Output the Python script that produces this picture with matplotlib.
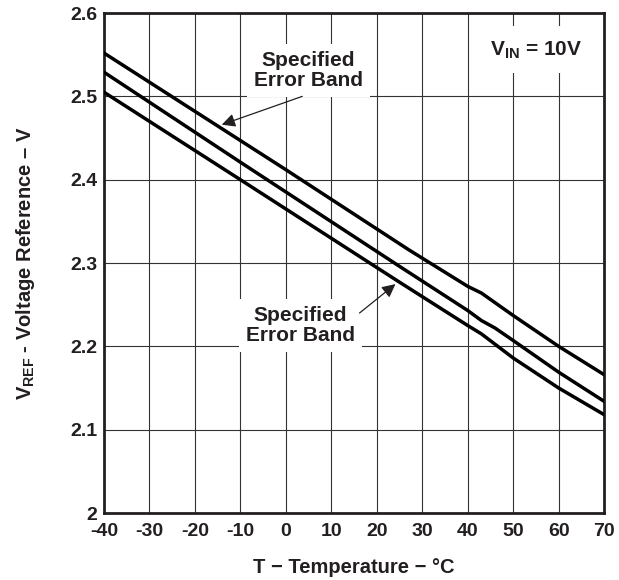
import matplotlib.pyplot as plt
import numpy as np

plt.rcParams['font.family'] = ['Liberation Sans', 'DejaVu Sans']
plt.rcParams['font.weight'] = 'bold'
plt.rcParams['axes.unicode_minus'] = False
plt.rcParams['mathtext.fontset'] = 'custom'
plt.rcParams['mathtext.rm'] = 'Liberation Sans'
plt.rcParams['mathtext.bf'] = 'Liberation Sans:bold'

# temperature (degC) and reference voltage (V)
t_upper = [-40, 0, 27, 40, 43, 50, 60, 70]
v_upper = [2.552, 2.412, 2.316, 2.272, 2.264, 2.237, 2.200, 2.166]

t_typ = [-40, -10, 25, 40, 43, 46, 50, 60, 70]
v_typ = [2.529, 2.421, 2.296, 2.243, 2.231, 2.222, 2.207, 2.169, 2.134]

t_lower = [-40, -10, 25, 40, 43, 50, 60, 70]
v_lower = [2.505, 2.400, 2.277, 2.225, 2.215, 2.186, 2.150, 2.118]

x_ticks = [-40, -30, -20, -10, 0, 10, 20, 30, 40, 50, 60, 70]
y_ticks = [2.0, 2.1, 2.2, 2.3, 2.4, 2.5, 2.6]
y_tick_labels = ['2', '2.1', '2.2', '2.3', '2.4', '2.5', '2.6']

INK = '#231f20'


def main():
    fig = plt.figure(figsize=(6.19, 5.8), dpi=100)
    ax = fig.add_axes([0.168, 0.1155, 0.808, 0.862])

    for t, v in [(t_upper, v_upper), (t_typ, v_typ), (t_lower, v_lower)]:
        ax.plot(t, v, color='black', lw=2.5, solid_joinstyle='round', zorder=3)

    ax.set_xlim(-40, 70)
    ax.set_ylim(2.0, 2.6)
    ax.set_xticks(x_ticks)
    ax.set_yticks(y_ticks)
    ax.set_yticklabels(y_tick_labels)
    ax.tick_params(length=0, labelsize=14, colors=INK)
    ax.tick_params(axis='x', pad=7)
    ax.tick_params(axis='y', pad=5)
    for lab in ax.get_xticklabels() + ax.get_yticklabels():
        lab.set_fontweight('bold')
    ax.grid(True, color='#333333', lw=0.8)
    ax.set_axisbelow(True)
    for sp in ax.spines.values():
        sp.set_linewidth(2.0)
        sp.set_color(INK)

    ax.set_xlabel('T − Temperature − °C', fontsize=14.5, fontweight='bold',
                  color=INK, labelpad=13)
    ax.set_ylabel(r'V$_{\mathbf{REF}}$ - Voltage Reference – V', fontsize=14.5,
                  fontweight='bold', color=INK, labelpad=24)

    box = dict(facecolor='white', edgecolor='none', pad=5)
    ax.text(5.0, 2.531, 'Specified\nError Band', fontsize=15, fontweight='bold',
            ha='center', va='center', linespacing=1.1, color=INK,
            bbox=box, zorder=4)
    ax.text(3.2, 2.225, 'Specified\nError Band', fontsize=15, fontweight='bold',
            ha='center', va='center', linespacing=1.1, color=INK,
            bbox=box, zorder=4)
    ax.text(55.0, 2.556, r'V$_{\mathbf{IN}}$ = 10V', fontsize=15,
            fontweight='bold', ha='center', va='center', color=INK,
            bbox=dict(facecolor='white', edgecolor='none', pad=9), zorder=4)

    arrow = dict(arrowstyle='-|>', lw=0.9, color=INK, mutation_scale=20,
                 shrinkA=0, shrinkB=0)
    ax.annotate('', xy=(-14.1, 2.466), xytext=(3.6, 2.500),
                arrowprops=arrow, zorder=5)
    ax.annotate('', xy=(24.1, 2.2747), xytext=(16.2, 2.240),
                arrowprops=arrow, zorder=5)

    fig.savefig('out.png', dpi=100)


if __name__ == '__main__':
    main()
